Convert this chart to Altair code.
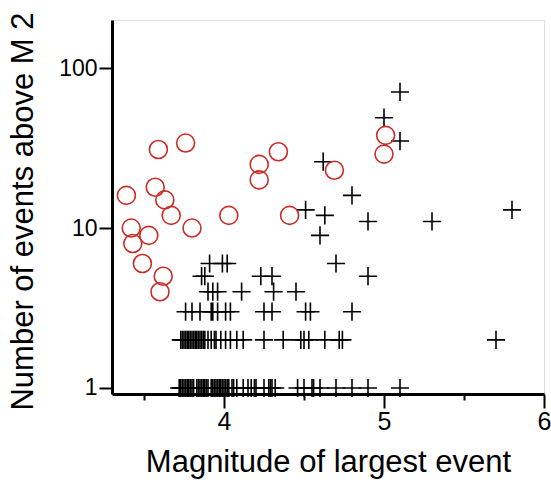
import altair as alt
import pandas as pd

# Red open circles
circle_mag = [3.39, 3.42, 3.43, 3.49, 3.53, 3.57, 3.59, 3.63, 3.67, 3.76, 3.80,
              3.62, 3.60, 4.03, 4.22, 4.22, 4.34, 4.41, 4.69, 5.01, 5.00]
circle_n = [16, 10, 8, 6, 9, 18, 31, 15, 12, 34, 10,
            5, 4, 12, 25, 20, 30, 12, 23, 38, 29]

# Black crosses, grouped by count
mag_n1 = [3.72, 3.73, 3.74, 3.75, 3.76, 3.77, 3.78, 3.79, 3.80, 3.81, 3.83, 3.84,
          3.85, 3.86, 3.87, 3.88, 3.89, 3.90, 3.92, 3.93, 3.94, 3.95, 3.96, 3.97,
          3.98, 3.99, 4.00, 4.01, 4.02, 4.03, 4.05, 4.06, 4.08, 4.12, 4.15, 4.17,
          4.19, 4.20, 4.25, 4.28, 4.29, 4.30, 4.32, 4.46, 4.50, 4.55, 4.56, 4.60,
          4.70, 4.80, 4.90, 5.10]
mag_n2 = [3.73, 3.74, 3.75, 3.76, 3.77, 3.78, 3.79, 3.80, 3.81, 3.82, 3.83, 3.84,
          3.85, 3.86, 3.87, 3.88, 3.90, 3.92, 3.94, 3.95, 3.98, 4.01, 4.04, 4.08,
          4.12, 4.25, 4.37, 4.48, 4.50, 4.53, 4.63, 4.72, 4.74, 5.70]
mag_n3 = [3.76, 3.80, 3.85, 3.92, 3.93, 3.96, 4.01, 4.04, 4.25, 4.30, 4.51, 4.54, 4.80]
mag_n4 = [3.90, 3.93, 3.96, 4.11, 4.31, 4.45]
mag_n5 = [3.86, 3.88, 4.23, 4.30, 4.90]
mag_n6 = [3.91, 3.99, 4.02, 4.70]
upper_mag = [5.10, 5.00, 5.10, 4.62, 4.80, 4.51, 4.63, 4.90, 5.30, 5.80, 4.60]
upper_n = [71, 49, 35, 26, 16, 13, 12, 11, 11, 13, 9]

cross_mag, cross_n = [], []
for n, mags in [(1, mag_n1), (2, mag_n2), (3, mag_n3), (4, mag_n4), (5, mag_n5), (6, mag_n6)]:
    cross_mag += mags
    cross_n += [n] * len(mags)
cross_mag += upper_mag
cross_n += upper_n

circles = pd.DataFrame({"mag": circle_mag, "n": circle_n})
crosses = pd.DataFrame({"mag": cross_mag, "n": cross_n})

FONT = "Liberation Sans"

x_enc = alt.X(
    "mag:Q",
    scale=alt.Scale(domain=[3.3, 6], nice=False, zero=False),
    axis=alt.Axis(
        values=[3.5, 4, 4.5, 5, 5.5, 6],
        labelExpr="datum.value % 1 === 0 ? format(datum.value, 'd') : ''",
        tickSize={"condition": {"test": "datum.value % 1 === 0", "value": 14}, "value": 6},
        tickWidth=2,
        tickColor="black",
        domainColor="black",
        domainWidth=3,
        labelFont=FONT,
        labelFontSize=25,
        labelColor="black",
        labelPadding=1,
        labelFlush=False,
        labelOverlap=False,
        grid=False,
        title="Magnitude of largest event",
        titleFont=FONT,
        titleFontSize=31,
        titleFontWeight="normal",
        titleColor="black",
        titleY=77,
        titleBaseline="alphabetic",
    ),
)
y_enc = alt.Y(
    "n:Q",
    scale=alt.Scale(type="log", domain=[0.917, 200], nice=False),
    axis=alt.Axis(
        values=[1, 10, 100],
        format="d",
        tickSize=13,
        tickWidth=2,
        tickColor="black",
        domainColor="black",
        domainWidth=3,
        labelFont=FONT,
        labelFontSize=23,
        labelColor="black",
        labelPadding=2,
        labelFlush=False,
        grid=False,
        title="Number of events above M 2",
        titleFont=FONT,
        titleFontSize=31,
        titleFontWeight="normal",
        titleColor="black",
        titleX=-80,
        titleY=191,
        titleBaseline="alphabetic",
    ),
)

circ = alt.Chart(circles).mark_point(
    shape="circle", size=324, filled=False, stroke="#cc2b25", strokeWidth=1.6, opacity=1
).encode(x=x_enc, y=y_enc)

cross = alt.Chart(crosses).mark_point(
    shape="M-1,0H1M0,-1V1", size=330, filled=False, stroke="black", strokeWidth=1.6, opacity=1
).encode(x=x_enc, y=y_enc)

chart = alt.layer(cross, circ).properties(
    width=432,
    height=374,
    autosize=alt.AutoSizeParams(type="none"),
    padding={"left": 112, "top": 20, "right": 7, "bottom": 89},
).configure_view(stroke=None).configure(background="white")

chart.save("out.html", embed_options={"renderer": "svg", "actions": False})
